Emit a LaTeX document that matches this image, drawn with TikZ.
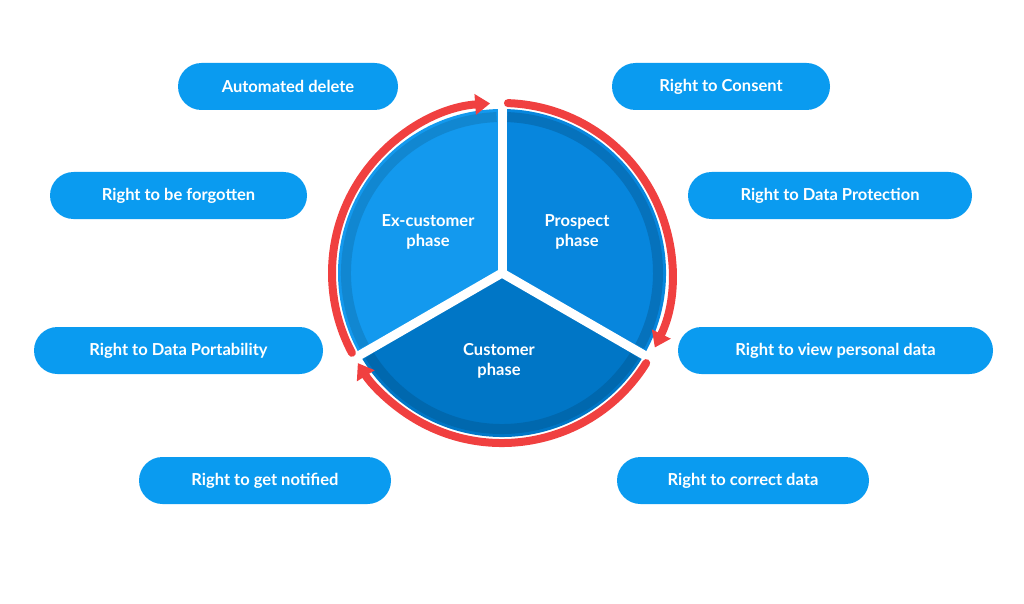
\documentclass[tikz,border=0pt]{standalone}
\usepackage{fontspec}
\setmainfont{Lato}
\usetikzlibrary{arrows.meta}
\definecolor{pillblue}{HTML}{0A9BF0}
\definecolor{exblue}{HTML}{1399EE}
\definecolor{problue}{HTML}{0786DD}
\definecolor{cusblue}{HTML}{0076C6}
\definecolor{ringred}{HTML}{F04040}
\tikzset{
  pill/.style={fill=pillblue, rounded corners=23.5pt, minimum height=47pt,
    text=white, font=\bfseries\fontsize{16.5}{18}\selectfont, inner sep=0pt},
  phase/.style={text=white, font=\bfseries\fontsize{16.5}{20}\selectfont, align=center},
  ring/.style={ringred, line width=8pt, line cap=round, -{Triangle[length=15pt,width=20pt]}},
  band/.style={line width=10pt},
  gap/.style={white, line width=9pt}
}
\begin{document}
\begin{tikzpicture}[x=1pt,y=1pt]
  \useasboundingbox (0,0) rectangle (1024,-604);
  \coordinate (c) at (502,-273);
  % wedges
  \fill[problue] (c) -- ++(-30:164) arc[start angle=-30,end angle=90,radius=164] -- cycle;
  \fill[exblue] (c) -- ++(90:164) arc[start angle=90,end angle=210,radius=164] -- cycle;
  \fill[cusblue] (c) -- ++(210:164) arc[start angle=210,end angle=330,radius=164] -- cycle;
  % inner darker bands
  \draw[band, problue!85!black] (c) ++(88:156) arc[start angle=88,end angle=-28,radius=156];
  \draw[band, exblue!88!black] (c) ++(208:156) arc[start angle=208,end angle=92,radius=156];
  \draw[band, cusblue!88!black] (c) ++(328:156) arc[start angle=328,end angle=212,radius=156];
  % gaps
  \draw[gap] (c) -- ++(90:176);
  \draw[gap] (c) -- ++(210:176);
  \draw[gap] (c) -- ++(330:176);
  % red cycle
  \draw[ring] (c) ++(88:170) arc[start angle=88,end angle=-26,radius=170];
  \draw[ring] (c) ++(-32:170) arc[start angle=-32,end angle=-148,radius=170];
  \draw[ring] (c) ++(208:170) arc[start angle=208,end angle=94,radius=170];
  % phases
  \node[phase] (ex) at (428,-232) {Ex-customer\\phase};
  \node[phase] (pro) at (577,-232) {Prospect\\phase};
  \node[phase] (cus) at (499,-361) {Customer\\phase};
  % rights
  \node[pill, minimum width=220pt] (delete) at (288,-86.5) {Automated delete};
  \node[pill, minimum width=218pt] (consent) at (721,-86.5) {Right to Consent};
  \node[pill, minimum width=257pt] (forgot) at (178.5,-195.5) {Right to be forgotten};
  \node[pill, minimum width=284pt] (protect) at (830,-195.5) {Right to Data Protection};
  \node[pill, minimum width=289pt] (port) at (178.5,-350.5) {Right to Data Portability};
  \node[pill, minimum width=315pt] (view) at (835.5,-350.5) {Right to view personal data};
  \node[pill, minimum width=252pt] (notify) at (265,-480.5) {Right to get notified};
  \node[pill, minimum width=252pt] (correct) at (743,-480.5) {Right to correct data};
\end{tikzpicture}
\end{document}
